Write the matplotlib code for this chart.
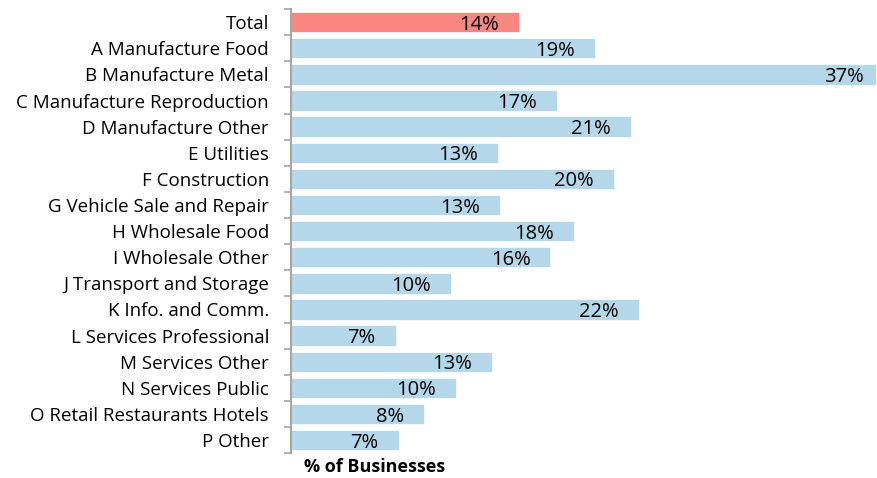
import matplotlib.pyplot as plt
from matplotlib.ticker import FixedLocator, NullLocator

plt.rcParams["font.family"] = ["Open Sans", "DejaVu Sans"]

categories = [
    "Total",
    "A Manufacture Food",
    "B Manufacture Metal",
    "C Manufacture Reproduction",
    "D Manufacture Other",
    "E Utilities",
    "F Construction",
    "G Vehicle Sale and Repair",
    "H Wholesale Food",
    "I Wholesale Other",
    "J Transport and Storage",
    "K Info. and Comm.",
    "L Services Professional",
    "M Services Other",
    "N Services Public",
    "O Retail Restaurants Hotels",
    "P Other",
]
share = [14.4, 19.2, 37.5, 16.8, 21.5, 13.1, 20.4, 13.2, 17.9,
         16.4, 10.1, 22.0, 6.6, 12.7, 10.4, 8.4, 6.8]
labels = ["14%", "19%", "37%", "17%", "21%", "13%", "20%", "13%", "18%",
          "16%", "10%", "22%", "7%", "13%", "10%", "8%", "7%"]

RED = "#f98680"
BLUE = "#b4d7e9"
GREY = "#a6a6a6"

fig = plt.figure(figsize=(8.77, 4.78), dpi=100)
ax = fig.add_axes([0.332, 0.052, 0.667, 0.929])

ypos = list(range(len(categories)))
colors = [RED] + [BLUE] * (len(categories) - 1)
ax.barh(ypos, share, height=0.78, color=colors, edgecolor="white", linewidth=0.5)

for y, v, lab in zip(ypos, share, labels):
    ax.text(v - 1.26, y + 0.1, lab, ha="right", va="center", fontsize=14.5, color="black")

ax.set_xlim(0, 37.0)
ax.set_ylim(len(categories) - 0.5, -0.5)
ax.set_yticks(ypos)
ax.set_yticklabels(categories, fontsize=13.5)
ax.yaxis.set_minor_locator(FixedLocator([i - 0.5 for i in range(len(categories) + 1)]))
ax.tick_params(axis="y", which="major", length=0, pad=16)
ax.tick_params(axis="y", which="minor", length=5, width=1.2, color=GREY)
ax.xaxis.set_major_locator(NullLocator())

for side in ["top", "right", "bottom"]:
    ax.spines[side].set_visible(False)
ax.spines["left"].set_color(GREY)
ax.spines["left"].set_linewidth(1.5)

fig.text(375 / 877, 1 - 467 / 478, "% of Businesses", ha="center", va="center",
         fontsize=13, fontweight="bold")

fig.savefig("out.png", dpi=100)
